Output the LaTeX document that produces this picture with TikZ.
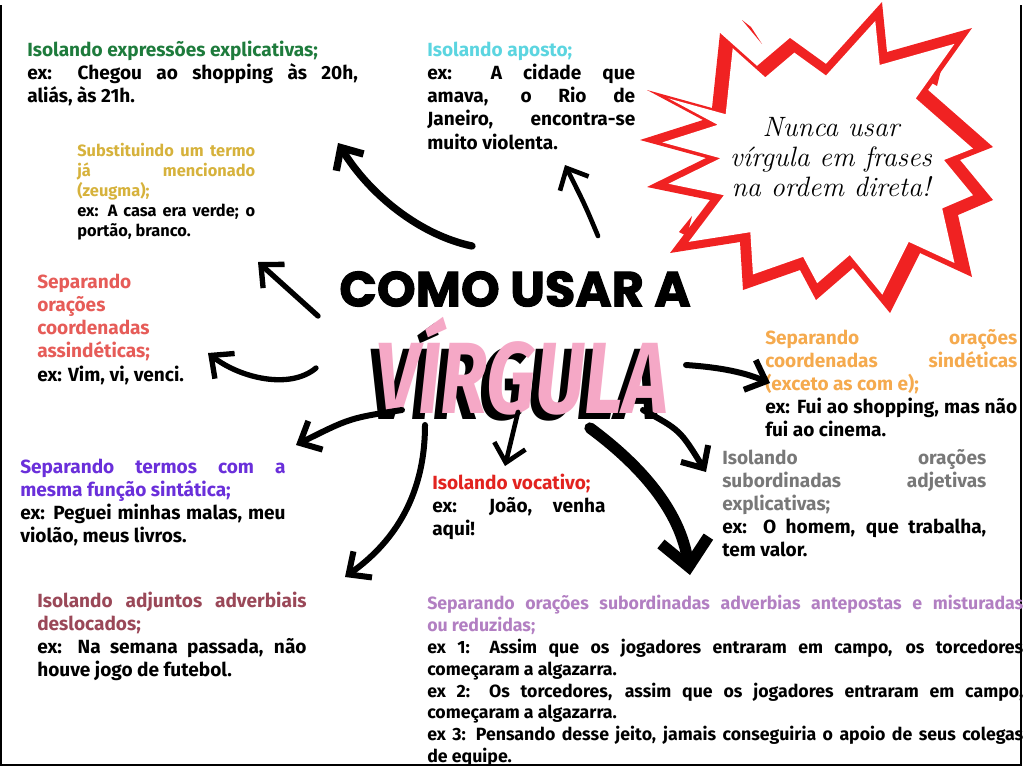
\documentclass[tikz,border=0pt]{standalone}
\usepackage{fontspec}
\setsansfont{Fira Sans}
\newfontfamily\titlefont{Poppins}[BoldFeatures={FakeBold=2}]
\newfontfamily\brushfont{Fira Sans}
\usetikzlibrary{arrows.meta}
\definecolor{cgreen}{HTML}{1E7B3C}
\definecolor{cgold}{HTML}{D6B23C}
\definecolor{ccyan}{HTML}{5CD5E0}
\definecolor{csalmon}{HTML}{E65C58}
\definecolor{corange}{HTML}{F5AA4E}
\definecolor{cgray}{HTML}{787878}
\definecolor{cpurple}{HTML}{6A2FDA}
\definecolor{cred}{HTML}{E2231F}
\definecolor{cmaroon}{HTML}{9A4858}
\definecolor{clilac}{HTML}{B27FC2}
\definecolor{cpink}{HTML}{F5A8C6}
\definecolor{starred}{HTML}{F02222}
\hyphenpenalty=10000
\exhyphenpenalty=10000
\begin{document}
\begin{tikzpicture}[x=0.75pt, y=-0.75pt,
  every node/.style={inner sep=0pt},
  tip/.style={anchor=north west, align=justify, font=\sffamily\bfseries\fontsize{14.3}{17.3}\selectfont},
  brush/.style={line width=#1, line cap=round, line join=round, -{Straight Barb[length=13pt, width=24pt]}},
  brush/.default=4pt]
  \useasboundingbox (0,0) rectangle (1024,768);
  \draw[line width=1.5pt] (1,5) -- (1,765) -- (1021,765) -- (1021,5);

  % starburst
  \foreach \s/\c in {1/starred, 0.88/white}
    \fill[\c, shift={(826,160)}, scale=\s, shift={(-826,-160)}]
      (647,90) -- (712,108) -- (720,33) -- (757,66) -- (790,38) -- (826,64) -- (882,2)
      -- (887,52) -- (972,28) -- (928,90) -- (993,147) -- (960,160) -- (993,200)
      -- (958,215) -- (972,277) -- (920,253) -- (890,313) -- (853,268) -- (816,300)
      -- (800,270) -- (743,290) -- (740,242) -- (670,253) -- (710,200) -- (647,187)
      -- (706,158) -- (640,140) -- (703,120) -- cycle;
  \fill[starred] (742,20) -- (762,44) -- (751,27) -- cycle;
  \fill[starred] (679,232) -- (692,216) -- (687,236) -- cycle;
  \fill[starred] (930,82) -- (941,70) -- (937,86) -- cycle;
  \node[align=center, font=\rmfamily\itshape\fontsize{21}{22.5}\selectfont] (nunca) at (831,157)
    {Nunca usar\\vírgula em frases\\na ordem direta!};

  % title
  \node (como) at (515,289) {\titlefont\bfseries\fontsize{37}{37}\selectfont COMO USAR A};
  \node (virgsh) at (514,372) {\brushfont\bfseries\itshape\fontsize{76}{76}\selectfont\scalebox{0.76}[1]{VÍRGULA}};
  \node[text=cpink] (virg) at (522,366) {\brushfont\bfseries\itshape\fontsize{76}{76}\selectfont\scalebox{0.76}[1]{VÍRGULA}};

  % rules
  \node[tip, text width=248pt] (expl) at (27,41)
    {{\color{cgreen}Isolando expressões explicativas;\par}
     ex: Chegou ao shopping às 20h,\linebreak aliás, às 21h.};
  \node[tip, text width=133.5pt, font=\sffamily\bfseries\fontsize{12.3}{15}\selectfont] (zeugma) at (77,143)
    {{\color{cgold}Substituindo um termo\linebreak já mencionado\linebreak (zeugma);\par}
     ex: A casa era verde; o\linebreak portão, branco.};
  \node[tip, text width=156pt] (aposto) at (427,42)
    {{\color{ccyan}Isolando aposto;\par}
     ex: A cidade que\linebreak amava, o Rio de\linebreak Janeiro, encontra-se\linebreak muito violenta.};
  \node[tip, align=left] (assind) at (37,274)
    {\textcolor{csalmon}{Separando}\\\textcolor{csalmon}{orações}\\\textcolor{csalmon}{coordenadas}\\
     \textcolor{csalmon}{assindéticas;}\\ex: Vim, vi, venci.};
  \node[tip, text width=189pt] (sindet) at (765,329)
    {{\color{corange}Separando orações\linebreak coordenadas sindéticas\linebreak (exceto as com e);\par}
     ex: Fui ao shopping, mas não\linebreak fui ao cinema.};
  \node[tip, text width=198pt] (adjet) at (722,449)
    {{\color{cgray}Isolando orações\linebreak subordinadas adjetivas\linebreak explicativas;\par}
     ex: O homem, que trabalha,\linebreak tem valor.};
  \node[tip, text width=199pt] (termos) at (20,459)
    {{\color{cpurple}Separando termos com a\linebreak mesma função sintática;\par}
     ex: Peguei minhas malas, meu\linebreak violão, meus livros.};
  \node[tip, text width=130pt] (vocat) at (432,474)
    {{\color{cred}Isolando vocativo;\par}
     ex: João, venha\linebreak aqui!};
  \node[tip, text width=202pt] (adjunt) at (37,592)
    {{\color{cmaroon}Isolando adjuntos adverbiais\linebreak deslocados;\par}
     ex: Na semana passada, não\linebreak houve jogo de futebol.};
  \node[tip, text width=447pt, font=\sffamily\bfseries\fontsize{13.3}{16.4}\selectfont] (adverb) at (427,595)
    {{\color{clilac}Separando orações subordinadas adverbias antepostas e misturadas\linebreak ou reduzidas;\par}
     ex 1: Assim que os jogadores entraram em campo, os torcedores\linebreak começaram a algazarra.\par
     ex 2: Os torcedores, assim que os jogadores entraram em campo,\linebreak começaram a algazarra.\par
     ex 3: Pensando desse jeito, jamais conseguiria o apoio de seus colegas\linebreak de equipe.};

  % arrows
  \coordinate (s-expl) at (472,246);   \coordinate (e-expl) at (338,143);
  \coordinate (s-aposto) at (598,236); \coordinate (e-aposto) at (565,165);
  \coordinate (s-zeugma) at (318,316); \coordinate (e-zeugma) at (258,262);
  \coordinate (s-assind) at (316,368); \coordinate (e-assind) at (208,353);
  \coordinate (s-termos) at (402,410); \coordinate (e-termos) at (296,445);
  \coordinate (s-adjunt) at (425,425); \coordinate (e-adjunt) at (345,577);
  \coordinate (s-vocat) at (518,412);  \coordinate (e-vocat) at (505,466);
  \coordinate (s-adverb) at (590,428); \coordinate (e-adverb) at (690,575);
  \coordinate (s-adjet) at (643,410);  \coordinate (e-adjet) at (706,472);
  \coordinate (s-sindet) at (686,365); \coordinate (e-sindet) at (770,383);
  \draw[brush=5.5pt] (s-expl) .. controls (420,235) and (370,195) .. (e-expl);
  \draw[brush=3.5pt] (s-aposto) .. controls (585,205) .. (e-aposto);
  \draw[brush] (s-zeugma) -- (e-zeugma);
  \draw[brush] (s-assind) .. controls (290,390) and (240,378) .. (e-assind);
  \draw[brush=4.5pt] (s-termos) .. controls (350,418) .. (e-termos);
  \draw[brush=4.5pt] (s-adjunt) .. controls (425,500) and (390,545) .. (e-adjunt);
  \draw[brush=3.5pt] (s-vocat) -- (e-vocat);
  \draw[line width=8.5pt, line cap=round, -{Straight Barb[length=20pt, width=36pt]}]
    (s-adverb) .. controls (640,465) and (680,510) .. (e-adverb);
  \draw[brush=4.5pt] (s-adjet) .. controls (680,430) .. (e-adjet);
  \draw[brush=4.5pt] (s-sindet) .. controls (730,368) and (750,375) .. (e-sindet);
\end{tikzpicture}
\end{document}
